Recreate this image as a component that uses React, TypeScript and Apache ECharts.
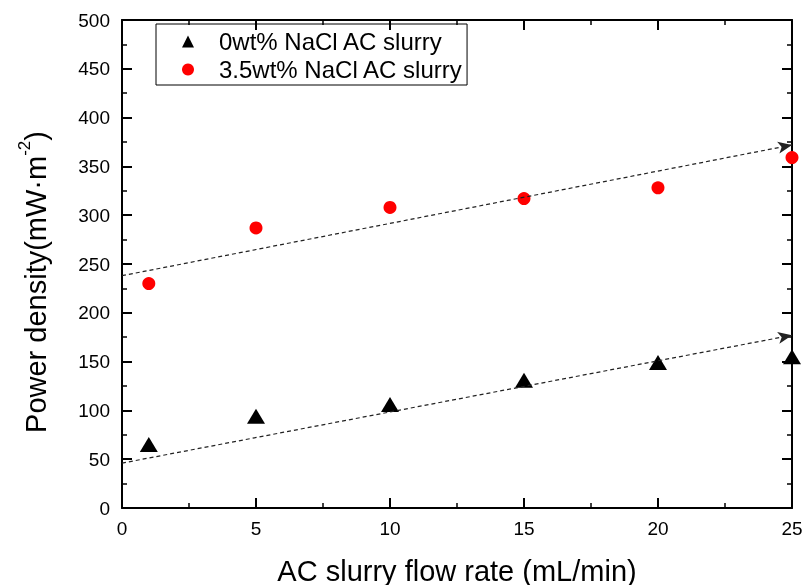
import React, { useEffect, useRef } from "react";
import * as echarts from "echarts";

const flowRates = [1, 5, 10, 15, 20, 25];
const power0wt = [65, 94, 106, 131, 149, 155];
const power35wt = [230, 287, 308, 317, 328, 359];
const fit0wt = [[0, 46], [25, 177]];
const fit35wt = [[0, 238], [25, 372]];
const seriesNames = ["0wt% NaCl AC slurry", "3.5wt% NaCl AC slurry"];
const X_MIN = 0, X_MAX = 25, X_STEP = 5;
const Y_MIN = 0, Y_MAX = 500, Y_STEP = 50;

const FONT = "Liberation Sans, Arial, sans-serif";

const axisLine = () => ({ show: true, onZero: false, lineStyle: { color: "#000", width: 2 } });
const axisTick = () => ({ show: true, inside: true, length: 10, lineStyle: { color: "#000", width: 2 } });
const minorTick = () => ({ show: true, splitNumber: 2, length: 5, lineStyle: { color: "#000", width: 1.5 } });

// helper axes: their minor ticks draw the major ticks (one per step), pointing inward
const majorX = (position: string) => ({
  type: "value",
  min: X_MIN,
  max: X_MAX,
  interval: X_MAX - X_MIN,
  position,
  axisLine: { show: false, onZero: false },
  axisTick: { show: false, inside: true },
  minorTick: { show: true, splitNumber: (X_MAX - X_MIN) / X_STEP, length: 10, lineStyle: { color: "#000", width: 2 } },
  splitLine: { show: false },
  axisLabel: { show: false },
});
const majorY = (position: string) => ({
  type: "value",
  min: Y_MIN,
  max: Y_MAX,
  interval: Y_MAX - Y_MIN,
  position,
  axisLine: { show: false, onZero: false },
  axisTick: { show: false, inside: true },
  minorTick: { show: true, splitNumber: (Y_MAX - Y_MIN) / Y_STEP, length: 10, lineStyle: { color: "#000", width: 2 } },
  splitLine: { show: false },
  axisLabel: { show: false },
});

export default function App() {
  const ref = useRef<HTMLDivElement>(null);
  useEffect(() => {
    const chart = echarts.init(ref.current!, null, { renderer: "svg" });
    const fitLine = (pts: number[][]) => ({
      silent: true,
      symbol: ["none", "arrow"],
      symbolSize: [9, 14],
      label: { show: false },
      lineStyle: { color: "#222", type: [4, 3], width: 1.2 },
      data: [[{ coord: pts[0] }, { coord: pts[1] }]],
    });
    chart.setOption({
      animation: false,
      grid: { left: 122, right: 14, top: 20, bottom: 77, outerBoundsMode: "none", containLabel: false },
      legend: {
        orient: "vertical",
        left: 156,
        top: 24,
        padding: [4, 4, 2, 26],
        itemGap: 1,
        itemWidth: 12,
        itemHeight: 12,
        borderColor: "#000",
        borderWidth: 1,
        borderRadius: 0,
        data: seriesNames,
        textStyle: { fontFamily: FONT, fontSize: 24, lineHeight: 27, color: "#000", padding: [0, 0, 0, 20] },
      },
      xAxis: [
        {
          type: "value",
          min: X_MIN,
          max: X_MAX,
          interval: X_STEP,
          position: "bottom",
          axisLine: axisLine(),
          axisTick: axisTick(),
          minorTick: minorTick(),
          splitLine: { show: false },
          axisLabel: { color: "#000", fontFamily: FONT, fontSize: 19, margin: 11 },
          name: "AC slurry flow rate (mL/min)",
          nameLocation: "middle",
          nameGap: 48,
          nameTextStyle: { color: "#000", fontFamily: FONT, fontSize: 29 },
        },
        {
          type: "value",
          min: X_MIN,
          max: X_MAX,
          interval: X_STEP,
          position: "top",
          axisLine: axisLine(),
          axisTick: axisTick(),
          minorTick: minorTick(),
          splitLine: { show: false },
          axisLabel: { show: false },
        },
        majorX("bottom"),
        majorX("top"),
      ],
      yAxis: [
        {
          type: "value",
          min: Y_MIN,
          max: Y_MAX,
          interval: Y_STEP,
          position: "left",
          axisLine: axisLine(),
          axisTick: axisTick(),
          minorTick: minorTick(),
          splitLine: { show: false },
          axisLabel: { color: "#000", fontFamily: FONT, fontSize: 19, margin: 12 },
          name: "{m|Power density(mW·m}{s|-2}{m|)}",
          nameLocation: "middle",
          nameGap: 72,
          nameRotate: 90,
          nameTextStyle: {
            padding: [0, 36, 0, 0],
            rich: {
              m: { color: "#000", fontFamily: FONT, fontSize: 29, lineHeight: 34, verticalAlign: "bottom" },
              s: { color: "#000", fontFamily: FONT, fontSize: 17, lineHeight: 34, verticalAlign: "top" },
            },
          },
        },
        {
          type: "value",
          min: Y_MIN,
          max: Y_MAX,
          interval: Y_STEP,
          position: "right",
          axisLine: axisLine(),
          axisTick: axisTick(),
          minorTick: minorTick(),
          splitLine: { show: false },
          axisLabel: { show: false },
        },
        majorY("left"),
        majorY("right"),
      ],
      series: [
        {
          name: seriesNames[0],
          type: "scatter",
          symbol: "triangle",
          symbolSize: [18, 15],
          itemStyle: { color: "#000", opacity: 1 },
          data: flowRates.map((x, i) => [x, power0wt[i]]),
          markLine: fitLine(fit0wt),
        },
        {
          name: seriesNames[1],
          type: "scatter",
          symbol: "circle",
          symbolSize: 13,
          itemStyle: { color: "#ff0000", opacity: 1 },
          data: flowRates.map((x, i) => [x, power35wt[i]]),
          markLine: fitLine(fit35wt),
        },
      ],
    });
    return () => chart.dispose();
  }, []);
  return <div ref={ref} style={{ position: "fixed", left: 0, top: 0, width: 806, height: 585 }} />;
}
